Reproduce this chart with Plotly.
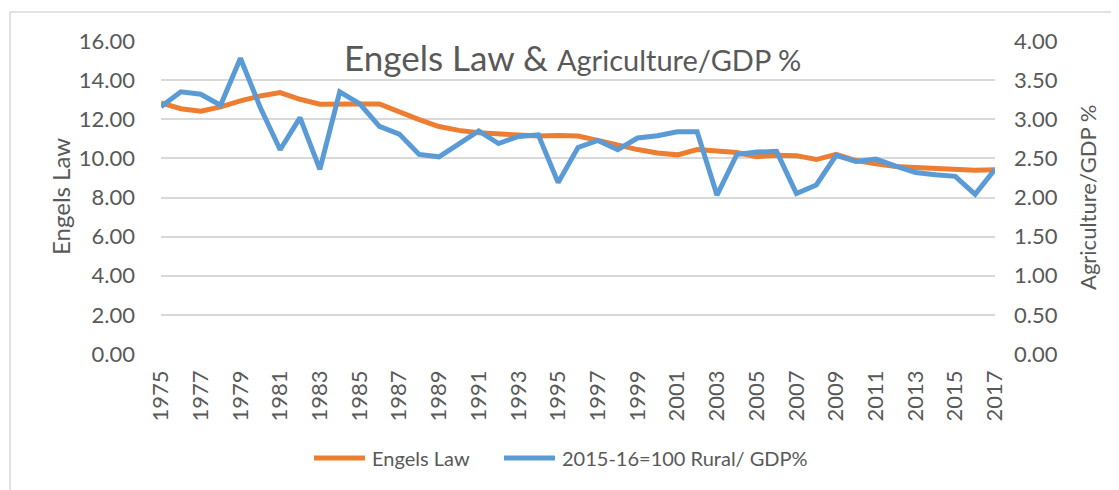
import plotly.graph_objects as go

years = [str(y) for y in range(1975, 2018)]
engels = [12.83, 12.54, 12.41, 12.63, 12.94, 13.19, 13.36, 13.02, 12.77, 12.75,
          12.78, 12.78, 12.37, 11.98, 11.63, 11.43, 11.31, 11.26, 11.22, 11.14,
          11.17, 11.14, 10.92, 10.66, 10.45, 10.28, 10.18, 10.45, 10.37, 10.30,
          10.09, 10.16, 10.14, 9.94, 10.21, 9.89, 9.73, 9.58, 9.53, 9.49,
          9.44, 9.39, 9.42]
agri = [3.16, 3.35, 3.32, 3.18, 3.78, 3.15, 2.61, 3.02, 2.36, 3.35,
        3.20, 2.91, 2.81, 2.55, 2.52, 2.68, 2.85, 2.69, 2.78, 2.80,
        2.19, 2.64, 2.73, 2.61, 2.76, 2.79, 2.84, 2.84, 2.03, 2.55,
        2.58, 2.59, 2.05, 2.16, 2.54, 2.46, 2.49, 2.40, 2.32, 2.29,
        2.27, 2.04, 2.36]
tick_years = [str(y) for y in range(1975, 2018, 2)]
left_ticks = [0, 2, 4, 6, 8, 10, 12, 14, 16]
right_ticks = [0, 0.5, 1, 1.5, 2, 2.5, 3, 3.5, 4]
series_names = ["Engels Law", "2015-16=100 Rural/ GDP%"]
series_colors = ["#ED7D31", "#5B9BD5"]

FONT = "Lato"
GREY = "#595959"
OFF = 8  # page body margin
W, H = 1119 - OFF, 490 - OFF
# plot area in page pixels
PX0, PX1, PY0, PY1 = 161, 995, 41, 354
L, R, T, B = PX0 - OFF, W - (PX1 - OFF), PY0 - OFF, H - (PY1 - OFF)
PW, PH = PX1 - PX0, PY1 - PY0


def px_x(x):
    return (x - PX0) / PW


def px_y(y):
    return (PY1 - y) / PH


fig = go.Figure()
fig.add_trace(go.Scatter(x=years, y=engels, name=series_names[0], mode="lines",
                         line=dict(color=series_colors[0], width=5)))
fig.add_trace(go.Scatter(x=years, y=agri, name=series_names[1], mode="lines",
                         line=dict(color=series_colors[1], width=5), yaxis="y2"))

# manual legend (page pixel positions)
legend_items = [(314, 365, 370), (504, 555, 560)]
legend_y = 458
shapes = [
    dict(type="line", xref="paper", yref="paper", x0=px_x(10), x1=px_x(1130),
         y0=px_y(12), y1=px_y(12), line=dict(color="#D9D9D9", width=1.5)),
    dict(type="line", xref="paper", yref="paper", x0=px_x(10), x1=px_x(10),
         y0=px_y(12), y1=px_y(500), line=dict(color="#D9D9D9", width=1.5)),
]
annotations = [
    dict(text="Engels Law & <span style='font-size:29px'>Agriculture/GDP %</span>",
         xref="paper", yref="paper", x=px_x(572), y=px_y(57),
         xanchor="center", yanchor="middle", showarrow=False,
         font=dict(size=35, color=GREY, family=FONT)),
    dict(text="Engels Law", xref="paper", yref="paper", x=px_x(60), y=px_y(197),
         xanchor="center", yanchor="middle", showarrow=False, textangle=-90,
         font=dict(size=24, color=GREY, family=FONT)),
    dict(text="Agriculture/GDP %", xref="paper", yref="paper", x=px_x(1087), y=px_y(198),
         xanchor="center", yanchor="middle", showarrow=False, textangle=-90,
         font=dict(size=22, color=GREY, family=FONT)),
]
for (lx0, lx1, tx), name, col in zip(legend_items, series_names, series_colors):
    shapes.append(dict(type="line", xref="paper", yref="paper", x0=px_x(lx0), x1=px_x(lx1),
                       y0=px_y(legend_y), y1=px_y(legend_y),
                       line=dict(color=col, width=5)))
    annotations.append(dict(text=name, xref="paper", yref="paper", x=px_x(tx),
                            y=px_y(legend_y), xanchor="left", yanchor="middle",
                            showarrow=False, font=dict(size=20, color=GREY, family=FONT)))

fig.update_layout(
    width=W, height=H,
    margin=dict(l=L, r=R, t=T, b=B, autoexpand=False),
    paper_bgcolor="white", plot_bgcolor="white",
    font=dict(family=FONT, color=GREY, size=20),
    showlegend=False,
    xaxis=dict(type="category", categoryorder="array", categoryarray=years,
               tickmode="array", tickvals=tick_years, ticktext=tick_years,
               tickangle=-90, showgrid=False, zeroline=False, showline=False,
               ticks="", ticklabelstandoff=11, automargin=False,
               tickfont=dict(size=22, color=GREY, family=FONT)),
    yaxis=dict(range=[0, 16], tickvals=left_ticks,
               ticktext=[f"{v:.2f}" for v in left_ticks],
               showgrid=True, gridcolor="#D9D9D9", gridwidth=1.5,
               zeroline=False, showline=False, ticks="", ticklabelstandoff=25,
               automargin=False,
               tickfont=dict(size=22, color=GREY, family=FONT)),
    yaxis2=dict(range=[0, 4], tickvals=right_ticks,
                ticktext=[f"{v:.2f}" for v in right_ticks],
                overlaying="y", side="right", showgrid=False, zeroline=False,
                showline=False, ticks="", ticklabelstandoff=18, automargin=False,
                tickfont=dict(size=22, color=GREY, family=FONT)),
    annotations=annotations,
    shapes=shapes,
)

fig.write_html("out.html")
